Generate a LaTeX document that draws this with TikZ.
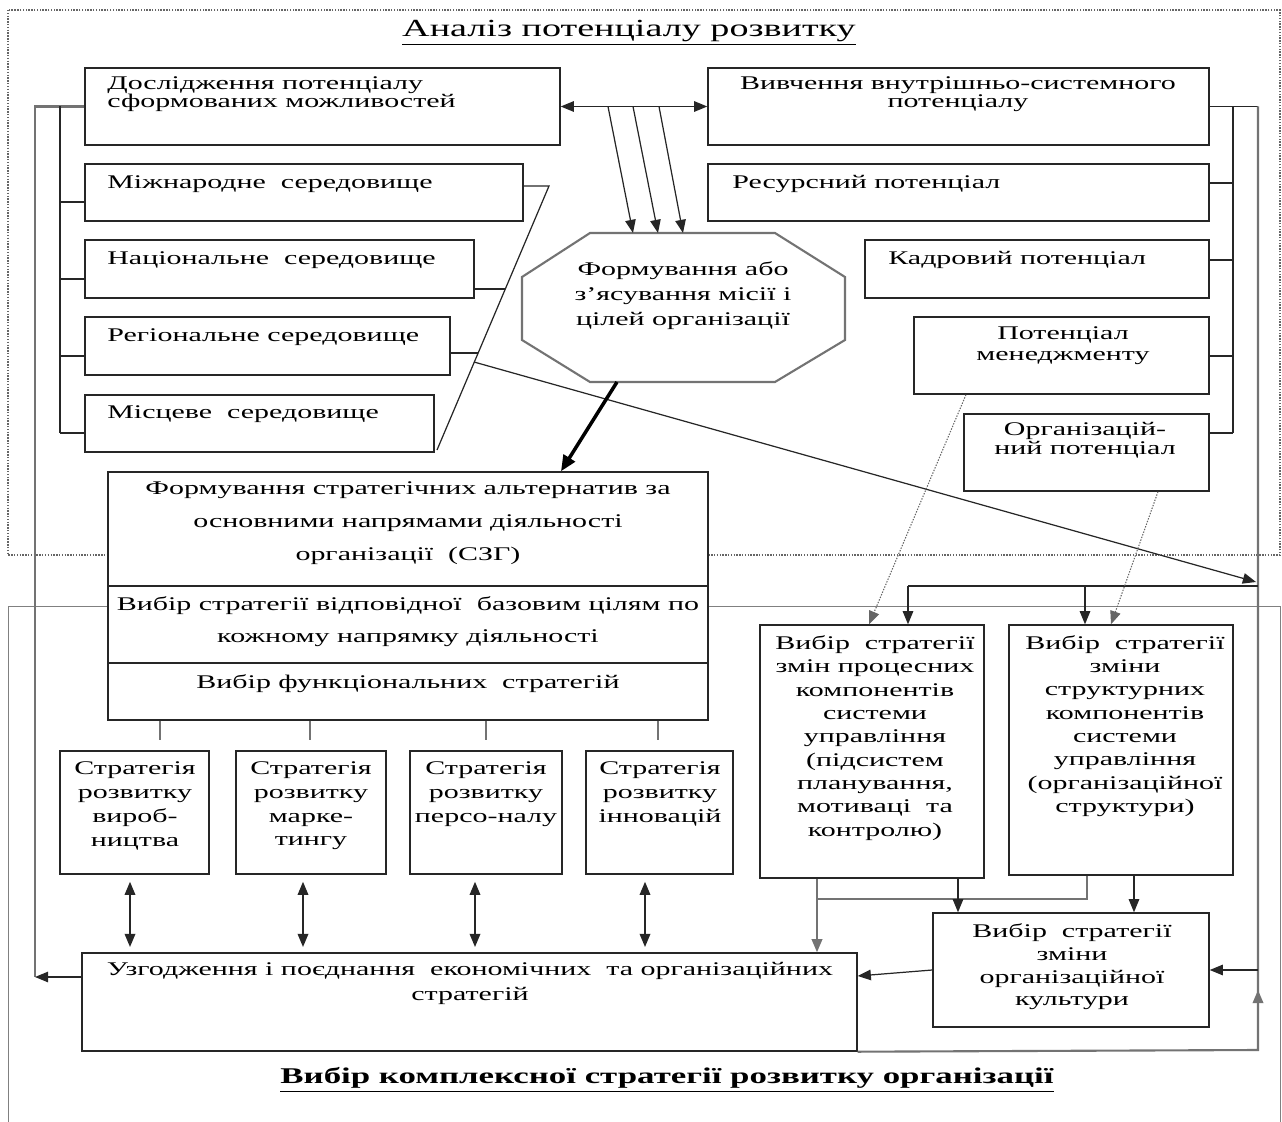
\documentclass[tikz,border=0pt]{standalone}
\usepackage{fontspec}
\setmainfont{Liberation Serif}[FakeStretch=1.55]
\usetikzlibrary{arrows.meta, fit}

\begin{document}
\begin{tikzpicture}[x=0.02cm, y=-0.02cm, >={Triangle[length=7.5pt,width=6pt]},
    box/.style={draw=black!85, line width=0.8pt, fill=white, inner sep=0pt},
    lbl/.style={font=\fontsize{11}{#1}\selectfont, inner sep=0pt, align=center},
    lbl/.default=13.5,
    wire/.style={draw=black!85, line width=0.7pt},
    gwire/.style={draw=black!55, line width=1.2pt},
    dotline/.style={draw=black!60, line width=0.6pt, dash pattern=on 0.8pt off 0.8pt}]

    \useasboundingbox (0,0) rectangle (1282,1122);

    % frames of the two stages
    \draw[dotline] (8,10) rectangle (1280,555);
    \draw[black!50, line width=0.5pt] (8,1122) -- (8,606) -- (1280,606) -- (1280,1122);

    \node[lbl, font=\fontsize{14}{16}\selectfont] (title-top) at (629,33) {\underline{Аналіз потенціалу розвитку}};
    \node[inner sep=0pt, font=\bfseries\fontsize{12.8}{15}\selectfont] (title-bot) at (667,1080) {\underline{Вибір комплексної стратегії розвитку організації}};

    % external environment
    \node[box, fit={(85,68) (560,145)}] (doslid) {};
    \node[lbl=10.2, anchor=west, align=left] (doslid-t) at (107,94) {Дослідження потенціалу\\сформованих можливостей};
    \node[box, fit={(85,164) (523,221)}] (mizhn) {};
    \node[lbl, anchor=west] (mizhn-t) at (107,184) {Міжнародне\ \ середовище};
    \node[box, fit={(85,240) (474,298)}] (natsion) {};
    \node[lbl, anchor=west] (natsion-t) at (107,260) {Національне\ \ середовище};
    \node[box, fit={(85,317) (450,375)}] (region) {};
    \node[lbl, anchor=west] (region-t) at (107,337) {Регіональне середовище};
    \node[box, fit={(85,395) (434,452)}] (mistsev) {};
    \node[lbl, anchor=west] (mistsev-t) at (107,414) {Місцеве\ \ середовище};

    % internal potential
    \node[box, fit={(708,68) (1209,145)}] (vyvch) {};
    \node[lbl=10.2] (vyvch-t) at (958,94) {Вивчення внутрішньо-системного\\потенціалу};
    \node[box, fit={(708,164) (1209,221)}] (resurs) {};
    \node[lbl, anchor=west] (resurs-t) at (732,184) {Ресурсний потенціал};
    \node[box, fit={(865,240) (1209,298)}] (kadr) {};
    \node[lbl, anchor=west] (kadr-t) at (888,260) {Кадровий потенціал};
    \node[box, fit={(914,317) (1209,394)}] (menedzh) {};
    \node[lbl=12] (menedzh-t) at (1063,346) {Потенціал\\менеджменту};
    \node[box, fit={(964,414) (1209,491)}] (orgpot) {};
    \node[lbl=9.7] (orgpot-t) at (1085,440) {Організацій-\\ний потенціал};

    % mission
    \draw[black!55, line width=1.2pt, fill=white] (590,233) -- (775,233) -- (845,277) -- (845,340)
        -- (775,382) -- (590,382) -- (522,340) -- (522,277) -- cycle;
    \coordinate (oct-top) at (683,233);
    \coordinate (oct-bot) at (683,382);
    \node[lbl=14.2] (misia) at (683,296) {Формування або\\з’ясування місії і\\цілей організації};

    % alternatives
    \node[box, fit={(108,472) (708,720)}] (alter) {};
    \draw[wire] (alter.west |- 0,586) -- (alter.east |- 0,586);
    \draw[wire] (alter.west |- 0,663) -- (alter.east |- 0,663);
    \node[lbl=18.8] (alter-t1) at (408,523) {Формування стратегічних альтернатив за\\основними напрямами діяльності\\організації\ \ (СЗГ)};
    \node[lbl=18.2] (alter-t2) at (408,622) {Вибір стратегії відповідної\ \ базовим цілям по\\кожному напрямку діяльності};
    \node[lbl] (alter-t3) at (408,684) {Вибір функціональних\ \ стратегій};

    % functional strategies
    \node[box, fit={(60,751) (209,874)}] (str-vyr) {};
    \node[lbl] (str-vyr-t) at (135,806) {Стратегія\\розвитку\\вироб-\\ництва};
    \node[box, fit={(236,751) (386,874)}] (str-mark) {};
    \node[lbl] (str-mark-t) at (311,806) {Стратегія\\розвитку\\марке-\\тингу};
    \node[box, fit={(410,751) (562,874)}] (str-pers) {};
    \node[lbl] (str-pers-t) at (486,794) {Стратегія\\розвитку\\персо-налу};
    \node[box, fit={(586,751) (733,874)}] (str-inn) {};
    \node[lbl] (str-inn-t) at (660,794) {Стратегія\\розвитку\\інновацій};

    \node[box, fit={(82,953) (857,1051)}] (uzgodzh) {};
    \node[lbl=14.2] (uzgodzh-t) at (470,983) {Узгодження і поєднання\ \ економічних\ \ та організаційних\\стратегій};

    % organisational strategies
    \node[box, fit={(760,625) (984,878)}] (proc) {};
    \node[lbl=13.3] (proc-t) at (875,738) {Вибір\ \ стратегії\\змін процесних\\компонентів\\системи\\управління\\(підсистем\\планування,\\мотиваці\ \ та\\контролю)};
    \node[box, fit={(1009,625) (1233,875)}] (struct) {};
    \node[lbl=13.3] (struct-t) at (1125,726) {Вибір\ \ стратегії\\зміни\\структурних\\компонентів\\системи\\управління\\(організаційної\\структури)};
    \node[box, fit={(933,913) (1209,1027)}] (kult) {};
    \node[lbl=12.9] (kult-t) at (1072,967) {Вибір\ \ стратегії\\зміни\\організаційної\\культури};

    % left brackets
    \coordinate (left-bus) at (35,977);
    \draw[gwire] (doslid.west) -- (35,0 |- doslid.west) -- (left-bus);
    \draw[->, wire] (uzgodzh.west |- left-bus) -- (left-bus);
    \draw[wire] (60,0 |- doslid.west) -- (60,433);
    \foreach \n/\y in {mizhn/202, natsion/279, region/356, mistsev/433}
        \draw[wire] (60,\y) -- (\n.west |- 0,\y);
    \draw[wire] (mizhn.east |- 0,186) -- (549,186) -- (437,450);
    \draw[wire] (natsion.east |- 0,289) -- (505,289);
    \draw[wire] (region.east |- 0,353) -- (478,353);

    % right brackets
    \coordinate (right-bus) at (1258,1050);
    \draw[wire] (vyvch.east) -- (1258,0 |- vyvch.east);
    \draw[wire] (1233,0 |- vyvch.east) -- (1233,433);
    \foreach \n/\y in {resurs/183, kadr/260, menedzh/356, orgpot/433}
        \draw[wire] (\n.east |- 0,\y) -- (1233,\y);
    \draw[gwire] (1258,0 |- vyvch.east) -- (right-bus) -- (uzgodzh.south east);
    \draw[->, gwire] (right-bus) -- (1258,990);
    \draw[->, wire] (1258,0 |- kult.east) -- (kult.east);
    \draw[->, wire] (474,362) -- (1256,582);

    % mission links
    \draw[<->, wire] (doslid.east) -- (vyvch.west);
    \foreach \a/\b in {608/633, 633/658, 659/683}
        \draw[->, wire] (\a,0 |- doslid.east) -- (\b,0 |- oct-top);
    \draw[-{Triangle[length=9pt,width=7.5pt]}, line width=2pt] (617,0 |- oct-bot) -- (561,0 |- alter.north);

    % functional links
    \foreach \x in {160,310,486,658}
        \draw[gwire, line width=0.9pt] (\x,0 |- alter.south) -- (\x,740);
    \foreach \x/\s in {130/str-vyr, 303/str-mark, 475/str-pers, 645/str-inn}
        \draw[<->, wire, line width=1pt, shorten <=4pt, shorten >=3pt] (\x,0 |- \s.south) -- (\x,0 |- uzgodzh.north);

    % organisational links
    \draw[wire] (908,586) -- (1258,586);
    \draw[->, wire] (908,586) -- (908,0 |- proc.north);
    \draw[->, wire] (1085,586) -- (1085,0 |- struct.north);
    \draw[->, dotline] (966,0 |- menedzh.south) -- (869,0 |- proc.north);
    \draw[->, dotline] (1158,0 |- orgpot.south) -- (1111,0 |- struct.north);
    \draw[->, gwire] (817,0 |- proc.south) -- (817,0 |- uzgodzh.north);
    \draw[gwire] (1087,0 |- struct.south) -- (1087,899) -- (817,899);
    \draw[->, wire] (958,0 |- proc.south) -- (958,0 |- kult.north);
    \draw[->, wire] (1134,0 |- struct.south) -- (1134,0 |- kult.north);
    \draw[->, wire] (kult.west) -- (uzgodzh.east |- 0,976);
\end{tikzpicture}
\end{document}
